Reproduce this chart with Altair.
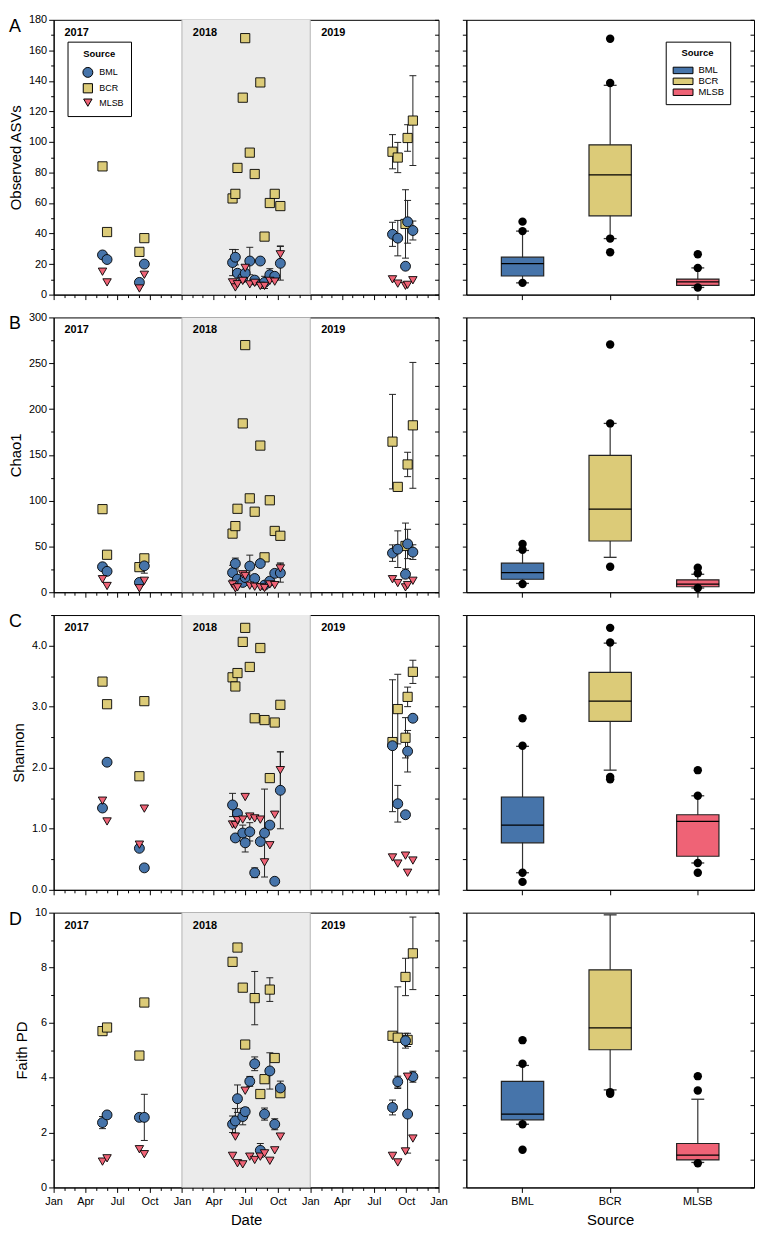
import altair as alt
import pandas as pd

# ---------------- data ----------------
SOURCES = ["BML", "BCR", "MLSB"]
FILL_COLORS = ["#4674aa", "#dccb78", "#ef6376"]
SHAPES = ["circle", "square", "triangle-down"]
MARK_SIZES = [100, 72, 110]

DATES = ["2017-05-20", "2017-06-02", "2017-09-02", "2017-09-16",
         "2018-05-25", "2018-06-02", "2018-06-08", "2018-06-23", "2018-06-30", "2018-07-13",
         "2018-07-27", "2018-08-12", "2018-08-24", "2018-09-08", "2018-09-22", "2018-10-08",
         "2019-08-23", "2019-09-07", "2019-09-29", "2019-10-05", "2019-10-20"]

YEAR_LABELS = ["2017", "2018", "2019"]
YEAR_LABEL_DATES = ["2017-02-01", "2018-02-01", "2019-02-01"]
SHADE_START = "2018-01-01"
SHADE_END = "2019-01-01"

# A: Observed ASVs
ASV_BML = [26, 23, 8, 20, 21, 24.5, 14, 11, 14, 22, 9.5, 22, 8, 13, 12, 20.5, 39.5, 37, 18.6, 47.7, 42]
ASV_BML_SD = [0, 0, 0, 0, 8.6, 5, 0, 0, 0, 9, 0, 0, 4, 4, 0, 11, 7.9, 11.6, 0, 14, 6.2]
ASV_BCR = [84, 41, 28, 37, 63, 66, 83, 129, 168, 93, 79, 139, 38, 60, 66, 58, 93.6, 89.8, 46.3, 102.6, 114]
ASV_BCR_SD = [0, 0, 0, 0, 0, 0, 0, 0, 0, 0, 0, 0, 0, 0, 0, 0, 11.2, 9.9, 22.4, 8.7, 29.4]
ASV_MLSB = [15, 8, 4, 13, 8, 4.7, 6.8, 9, 17.5, 6.7, 7.7, 5.7, 5.7, 9, 8.5, 26.4, 10, 7.2, 5.8, 6.4, 9.4]
ASV_MLSB_SD = [0, 0, 0, 0, 0, 0, 0, 0, 0, 0, 0, 0, 0, 0, 0, 5.5, 0, 0, 0, 0, 0]

# B: Chao1
CHAO_BML = [27.8, 22.8, 10.7, 28.8, 21.4, 31.3, 14.2, 10.7, 16, 28.5, 15, 31.3, 7.8, 12.1, 20.6, 21, 42.7, 47, 19.6, 52.7, 43.8]
CHAO_BML_SD = [0, 0, 0, 8, 8, 6, 0, 0, 0, 12, 0, 0, 0, 4, 0, 10, 9, 20, 0, 16, 8]
CHAO_BCR = [90.7, 40.9, 27.4, 37, 64, 72.2, 91.1, 184.3, 269.8, 102.5, 87.9, 160.1, 38.1, 100.4, 66.9, 61.6, 164.4, 115, 50.5, 139.5, 182.2]
CHAO_BCR_SD = [0, 0, 0, 4, 0, 0, 0, 0, 0, 0, 0, 0, 0, 0, 0, 0, 51.6, 0, 25, 13.3, 68.7]
CHAO_MLSB = [14.2, 6.8, 4.3, 12.5, 8.5, 4.3, 5.3, 19.6, 17.8, 7.1, 6, 5.3, 4.6, 8.5, 7.8, 26, 14.2, 10, 5.3, 7.8, 12.5]
CHAO_MLSB_SD = [0, 0, 0, 0, 0, 0, 0, 0, 0, 0, 0, 0, 0, 0, 0, 6, 0, 0, 0, 0, 0]

# C: Shannon
SHAN_BML = [1.34, 2.09, 0.68, 0.36, 1.39, 0.85, 1.25, 0.93, 0.77, 0.95, 0.28, 0.79, 0.93, 1.06, 0.14, 1.63, 2.36, 1.41, 1.23, 2.27, 2.81]
SHAN_BML_SD = [0, 0, 0, 0, 0.19, 0, 0, 0.13, 0.15, 0.15, 0.08, 0, 0.72, 0, 0, 0.63, 1.08, 0.3, 0, 0.34, 0]
SHAN_BCR = [3.41, 3.04, 1.86, 3.09, 3.48, 3.33, 3.55, 4.06, 4.29, 3.65, 2.81, 3.96, 2.78, 1.83, 2.74, 3.03, 2.42, 2.96, 2.49, 3.16, 3.57]
SHAN_BCR_SD = [0, 0, 0, 0, 0, 0, 0, 0, 0, 0, 0, 0, 0, 0, 0, 0, 0, 0.57, 0.33, 0.16, 0.19]
SHAN_MLSB = [1.46, 1.12, 0.74, 1.33, 1.07, 1.06, 1.14, 1.15, 1.52, 1.2, 1.17, 1.15, 0.45, 0.73, 1.23, 1.96, 0.53, 0.43, 0.56, 0.28, 0.48]
SHAN_MLSB_SD = [0, 0, 0, 0, 0, 0, 0, 0, 0, 0, 0, 0, 0, 0, 0, 0.3, 0, 0, 0, 0, 0]

# D: Faith PD
FAITH_BML = [2.36, 2.64, 2.55, 2.55, 2.3, 2.42, 3.23, 2.58, 2.76, 3.86, 4.5, 1.35, 2.67, 4.24, 2.3, 3.62, 2.91, 3.85, 5.34, 2.67, 4.03]
FAITH_BML_SD = [0.22, 0, 0, 0.84, 0.3, 0.45, 0.5, 0.3, 0.15, 0.18, 0.25, 0.25, 0.22, 0.66, 0.2, 0.25, 0.27, 0.2, 0.27, 1.42, 0.2]
FAITH_BCR = [5.69, 5.82, 4.8, 6.73, 8.21, None, 8.73, 7.27, 5.2, None, 6.89, 3.4, 3.94, 7.2, 4.71, 3.43, 5.52, 5.45, 7.66, 5.37, 8.52]
FAITH_BCR_SD = [0, 0, 0, 0, 0, 0, 0, 0, 0, 0, 0.97, 0, 0, 0.43, 0, 0.1, 0, 1.85, 0.68, 0.24, 1.32]
FAITH_MLSB = [0.94, 1.06, 1.39, 1.21, 1.15, 1.85, 0.88, 0.84, 3.52, 1.12, 1.0, 1.12, 1.24, 0.97, 1.35, 1.85, 1.15, 0.91, 1.31, 4.03, 1.78]
FAITH_MLSB_SD = [0] * 21

# box plot statistics (order: BML, BCR, MLSB)
BOX_A_LO = [7.7, 36.7, 4.7]
BOX_A_Q1 = [12.2, 51.6, 6.0]
BOX_A_MED = [20.3, 78.5, 8.3]
BOX_A_Q3 = [24.5, 98.1, 10.2]
BOX_A_HI = [41.6, 137.1, 17.5]
OUT_A_BML = [47.8, 41.6, 7.7]
OUT_A_BCR = [167.6, 138.6, 36.7, 27.7]
OUT_A_MLSB = [26.4, 17.5, 4.7]

BOX_B_LO = [9.6, 38.1, 4.6]
BOX_B_Q1 = [14.2, 55.9, 6.0]
BOX_B_MED = [21.4, 90.7, 8.9]
BOX_B_Q3 = [31.7, 149.5, 13.5]
BOX_B_HI = [45.6, 184.3, 19.6]
OUT_B_BML = [52.7, 46.3, 8.9]
OUT_B_BCR = [270.5, 184.3, 27.8]
OUT_B_MLSB = [26.7, 20.6, 4.6]

BOX_C_LO = [0.28, 1.96, 0.44]
BOX_C_Q1 = [0.77, 2.76, 0.55]
BOX_C_MED = [1.06, 3.09, 1.12]
BOX_C_Q3 = [1.52, 3.56, 1.23]
BOX_C_HI = [2.35, 4.04, 1.54]
OUT_C_BML = [2.81, 2.36, 0.28, 0.13]
OUT_C_BCR = [4.29, 4.05, 1.85, 1.81]
OUT_C_MLSB = [1.96, 1.54, 0.44, 0.28]

BOX_D_LO = [2.3, 3.55, 0.91]
BOX_D_Q1 = [2.46, 5.01, 1.0]
BOX_D_MED = [2.67, 5.81, 1.18]
BOX_D_Q3 = [3.86, 7.92, 1.6]
BOX_D_HI = [4.44, 9.92, 3.21]
OUT_D_BML = [5.36, 4.5, 2.3, 1.37]
OUT_D_BCR = [3.41, 3.47]
OUT_D_MLSB = [4.05, 3.53, 0.88]

# ---------------- layout ----------------
WL, WR, H = 388, 290, 277
FONT = "Liberation Sans"

TICK_DATES = [alt.DateTime(year=y, month=m, date=1, utc=True) for y in (2017, 2018, 2019) for m in range(1, 13)]
TICK_DATES.append(alt.DateTime(year=2020, month=1, date=1, utc=True))
XSCALE = alt.Scale(type="utc", domain=[alt.DateTime(year=2017, month=1, date=1, utc=True),
                                       alt.DateTime(year=2020, month=1, date=1, utc=True)])


def series_df(bml, bml_sd, bcr, bcr_sd, mlsb, mlsb_sd):
    rows = []
    for src, vals, sds in (("BCR", bcr, bcr_sd), ("BML", bml, bml_sd), ("MLSB", mlsb, mlsb_sd)):
        for d, v, s in zip(DATES, vals, sds):
            rows.append({"date": d, "source": src, "value": v, "err": s if v is not None else 0})
    df = pd.DataFrame(rows)
    df["value"] = df["value"].astype(float)
    err = df[df["err"] > 0].copy()
    err["lo"] = err["value"] - err["err"]
    err["hi"] = err["value"] + err["err"]
    return df, err


def box_df(lo, q1, med, q3, hi):
    return pd.DataFrame({"source": SOURCES, "lo": lo, "q1": q1, "med": med, "q3": q3, "hi": hi})


def out_df(bml, bcr, mlsb):
    rows = []
    for src, vals in (("BML", bml), ("BCR", bcr), ("MLSB", mlsb)):
        for v in vals:
            rows.append({"source": src, "value": v})
    return pd.DataFrame(rows)


def left_panel(df, err, ydom, yvals, major, fmt, ytitle, letter, bottom, legend):
    ys = alt.Scale(domain=ydom, nice=False, zero=False)
    test = f"abs(datum.value / {major} - round(datum.value / {major})) < 0.001"
    top = f"abs(datum.value - {ydom[1]}) < 0.001"
    yaxis = alt.Axis(values=yvals, title=ytitle,
                     labelExpr=f"({test}) || ({top}) ? format(datum.value, '{fmt}') : ''",
                     labelColor={"condition": {"test": f"!({test})", "value": "rgba(0,0,0,0)"}, "value": "black"},
                     tickSize={"condition": {"test": test, "value": 5}, "value": 3},
                     titlePadding=5, labelPadding=2, labelOverlap=False, grid=False)
    yaxis_r = alt.Axis(orient="right", values=yvals, labels=False, domain=False, title=None,
                       tickSize=4, offset=-4, grid=False)
    qtest = "utcmonth(datum.value) % 3 === 0"
    xaxis = alt.Axis(values=TICK_DATES, labels=bottom,
                     labelExpr=f"{qtest} ? utcFormat(datum.value, '%b') : ''",
                     tickSize={"condition": {"test": qtest, "value": 5}, "value": 3},
                     title="Date" if bottom else None, labelFlush=False,
                     labelOverlap=False, grid=False, labelPadding=3, titlePadding=6)
    shade = alt.Chart(pd.DataFrame({"start": [SHADE_START], "end": [SHADE_END]})).mark_rect(
        color="#ebebeb").encode(x=alt.X("start:T", scale=XSCALE, axis=xaxis), x2="end:T")
    edges = alt.Chart(pd.DataFrame({"d": [SHADE_START, SHADE_END]})).mark_rule(
        color="#b4b4b4", strokeWidth=1).encode(x=alt.X("d:T", scale=XSCALE, axis=xaxis))
    years = alt.Chart(pd.DataFrame({"pos": YEAR_LABEL_DATES, "label": YEAR_LABELS,
                                    "top": [ydom[1]] * 3})).mark_text(
        align="left", baseline="top", dy=7, fontWeight="bold", fontSize=11, font=FONT, color="black"
    ).encode(x=alt.X("pos:T", scale=XSCALE, axis=xaxis), y=alt.Y("top:Q", scale=ys, axis=None),
             text="label:N")
    ebar = alt.Chart(err).mark_rule(color="#222222", strokeWidth=1).encode(
        x=alt.X("date:T", scale=XSCALE, axis=xaxis), y=alt.Y("lo:Q", scale=ys, axis=yaxis_r), y2="hi:Q")
    caplo = alt.Chart(err).mark_tick(orient="horizontal", size=7, thickness=1, color="#222222", opacity=1).encode(
        x=alt.X("date:T", scale=XSCALE, axis=xaxis), y=alt.Y("lo:Q", scale=ys, axis=None))
    caphi = alt.Chart(err).mark_tick(orient="horizontal", size=7, thickness=1, color="#222222", opacity=1).encode(
        x=alt.X("date:T", scale=XSCALE, axis=xaxis), y=alt.Y("hi:Q", scale=ys, axis=None))
    pts = alt.Chart(df).mark_point(filled=True, strokeWidth=0.9, opacity=1).encode(
        x=alt.X("date:T", scale=XSCALE, axis=xaxis),
        y=alt.Y("value:Q", scale=ys, axis=yaxis),
        fill=alt.Fill("source:N", scale=alt.Scale(domain=SOURCES, range=FILL_COLORS), legend=legend),
        stroke=alt.Stroke("source:N", scale=alt.Scale(domain=SOURCES, range=["black"] * 3), legend=legend),
        shape=alt.Shape("source:N", scale=alt.Scale(domain=SOURCES, range=SHAPES), legend=legend),
        size=alt.Size("source:N", scale=alt.Scale(domain=SOURCES, range=MARK_SIZES), legend=legend),
    )
    title = alt.TitleParams(text=letter, anchor="start", frame="group", orient="top", offset=0,
                            dx=-45, dy=22, baseline="top", fontSize=18, fontWeight="normal",
                            font=FONT, color="black")
    return alt.layer(shade, edges, years, ebar, caplo, caphi, pts).resolve_axis(
        y="independent").properties(width=WL, height=H, title=title)


def right_panel(bdf, odf, ydom, yvals, bottom, legend):
    ys = alt.Scale(domain=ydom, nice=False, zero=False)
    xs = alt.Scale(domain=SOURCES, paddingInner=0.517, paddingOuter=0.4)
    xaxis = alt.Axis(labels=bottom, title="Source" if bottom else None, tickSize=5, labelAngle=0,
                     labelPadding=3, titlePadding=6, grid=False)
    yl = alt.Axis(values=yvals, labels=False, title=None, tickSize=4, grid=False)
    yr = alt.Axis(orient="right", values=yvals, labels=False, domain=False, title=None,
                  tickSize=4, offset=-4, grid=False)
    X = alt.X("source:N", scale=xs, axis=xaxis)
    whisk = alt.Chart(bdf).mark_rule(color="#333333", strokeWidth=1.2).encode(
        x=X, y=alt.Y("lo:Q", scale=ys, axis=yr), y2="hi:Q")
    caplo = alt.Chart(bdf).mark_tick(orient="horizontal", size=13, thickness=1.3, color="#333333", opacity=1).encode(
        x=X, y=alt.Y("lo:Q", scale=ys, axis=None))
    caphi = alt.Chart(bdf).mark_tick(orient="horizontal", size=13, thickness=1.3, color="#333333", opacity=1).encode(
        x=X, y=alt.Y("hi:Q", scale=ys, axis=None))
    box = alt.Chart(bdf).mark_bar(stroke="#222222", strokeWidth=1.2).encode(
        x=X, y=alt.Y("q1:Q", scale=ys, axis=yl), y2="q3:Q",
        fill=alt.Fill("source:N", scale=alt.Scale(domain=SOURCES, range=FILL_COLORS), legend=legend))
    med = alt.Chart(bdf).mark_tick(orient="horizontal", size=43, thickness=1.3, color="black", opacity=1).encode(
        x=X, y=alt.Y("med:Q", scale=ys, axis=None))
    outs = alt.Chart(odf).mark_circle(color="black", opacity=1, size=72).encode(
        x=X, y=alt.Y("value:Q", scale=ys, axis=None))
    return alt.layer(whisk, caplo, caphi, box, med, outs).resolve_axis(
        y="independent").properties(width=WR, height=H)


LEG_PTS = alt.Legend(orient="none", legendX=14, legendY=22, title="Source", titleFontSize=9.5,
                     titleFontWeight="bold", titleAnchor="middle", titleFont=FONT, labelFont=FONT,
                     labelFontSize=9, strokeColor="black", fillColor="white", padding=7,
                     titlePadding=9, rowPadding=1, symbolStrokeWidth=1,
                     symbolOffset=8, labelOffset=6)
LEG_BOX = alt.Legend(orient="none", legendX=201, legendY=22, title="Source", titleFontSize=9.5,
                     titleFontWeight="bold", titleAnchor="middle", titleFont=FONT, labelFont=FONT,
                     labelFontSize=9.5, strokeColor="black", fillColor="white", padding=6,
                     titlePadding=8, rowPadding=0,
                     symbolType="M-2,-0.65L2,-0.65L2,0.65L-2,0.65Z", symbolSize=100,
                     symbolStrokeColor="black", symbolStrokeWidth=1, symbolOffset=6, labelOffset=10)

panels = [
    dict(s=(ASV_BML, ASV_BML_SD, ASV_BCR, ASV_BCR_SD, ASV_MLSB, ASV_MLSB_SD), dom=[0, 180],
         vals=list(range(0, 181, 10)), major=20, fmt="d", title="Observed ASVs", letter="A",
         box=(BOX_A_LO, BOX_A_Q1, BOX_A_MED, BOX_A_Q3, BOX_A_HI), out=(OUT_A_BML, OUT_A_BCR, OUT_A_MLSB)),
    dict(s=(CHAO_BML, CHAO_BML_SD, CHAO_BCR, CHAO_BCR_SD, CHAO_MLSB, CHAO_MLSB_SD), dom=[0, 300],
         vals=list(range(0, 301, 25)), major=50, fmt="d", title="Chao1", letter="B",
         box=(BOX_B_LO, BOX_B_Q1, BOX_B_MED, BOX_B_Q3, BOX_B_HI), out=(OUT_B_BML, OUT_B_BCR, OUT_B_MLSB)),
    dict(s=(SHAN_BML, SHAN_BML_SD, SHAN_BCR, SHAN_BCR_SD, SHAN_MLSB, SHAN_MLSB_SD), dom=[0, 4.5],
         vals=[i * 0.5 for i in range(10)], major=1, fmt=".1f", title="Shannon", letter="C",
         box=(BOX_C_LO, BOX_C_Q1, BOX_C_MED, BOX_C_Q3, BOX_C_HI), out=(OUT_C_BML, OUT_C_BCR, OUT_C_MLSB)),
    dict(s=(FAITH_BML, FAITH_BML_SD, FAITH_BCR, FAITH_BCR_SD, FAITH_MLSB, FAITH_MLSB_SD), dom=[0, 10],
         vals=list(range(0, 11, 1)), major=2, fmt="d", title="Faith PD", letter="D",
         box=(BOX_D_LO, BOX_D_Q1, BOX_D_MED, BOX_D_Q3, BOX_D_HI), out=(OUT_D_BML, OUT_D_BCR, OUT_D_MLSB)),
]

cells = []
for i, p in enumerate(panels):
    df, err = series_df(*p["s"])
    bottom = i == len(panels) - 1
    cells.append(left_panel(df, err, p["dom"], p["vals"], p["major"], p["fmt"], p["title"], p["letter"],
                            bottom, LEG_PTS if i == 0 else None))
    cells.append(right_panel(box_df(*p["box"]), out_df(*p["out"]), p["dom"], p["vals"], bottom,
                             LEG_BOX if i == 0 else None))

chart = alt.concat(*cells, columns=2, spacing={"row": 10, "column": 13}).resolve_scale(
    fill="independent", shape="independent", size="independent", stroke="independent"
).properties(padding={"left": 0, "top": 0, "right": 0, "bottom": 0}).configure(
    font=FONT
).configure_view(stroke="black", strokeWidth=1).configure_axis(
    labelFont=FONT, titleFont=FONT, labelFontSize=11, titleFontSize=15, titleFontWeight="normal",
    domainColor="black", tickColor="black", labelColor="black", titleColor="black",
    tickWidth=1, domainWidth=1
)

chart.save("out.html", embed_options={"renderer": "svg", "actions": False})
